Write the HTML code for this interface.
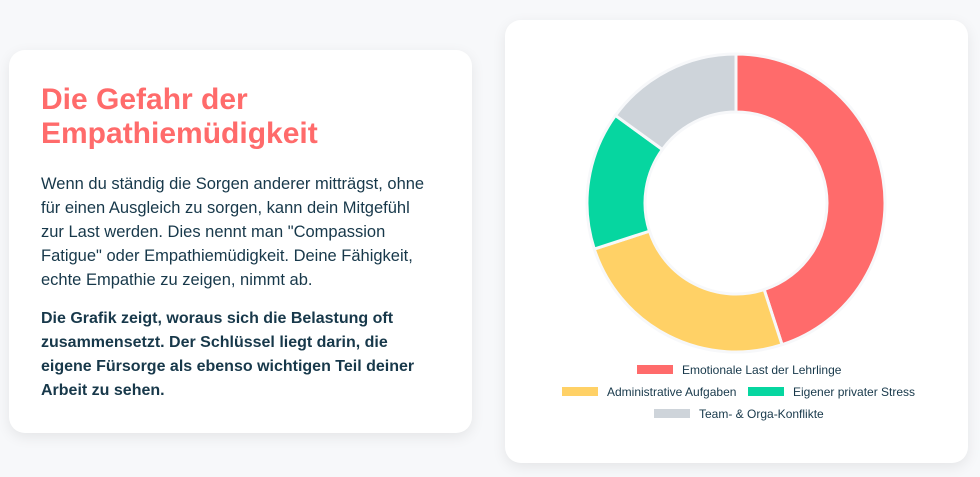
<!DOCTYPE html>
<html><head><meta charset="utf-8"><style>
body{margin:0;width:980px;height:477px;background:#f7f8fa;font-family:"Liberation Sans",sans-serif;position:relative;overflow:hidden}
.card{position:absolute;background:#fff;border-radius:16px;box-shadow:0 4px 14px rgba(0,0,0,0.08)}
#left{left:9px;top:50px;width:463px;height:383px}
#right{left:505px;top:20px;width:463px;height:443px}
h1{position:absolute;left:32px;top:33px;margin:0;font-size:30px;line-height:34px;color:#ff6b6b;font-weight:bold;width:400px}
p{position:absolute;left:32px;margin:0;font-size:16px;line-height:24px;color:#17384a;white-space:nowrap}
#p1{top:122px;font-size:16.5px}
#p2{top:257px;font-weight:bold}
.leg{position:absolute;font-size:12px;color:#17384a;white-space:nowrap}
.sw{display:inline-block;width:36px;height:9px;vertical-align:middle;margin-right:9px;position:relative;top:-1px}
</style></head><body>
<div id="left" class="card">
<h1>Die Gefahr der Empathiemüdigkeit</h1>
<p id="p1">Wenn du ständig die Sorgen anderer mitträgst, ohne<br>für einen Ausgleich zu sorgen, kann dein Mitgefühl<br>zur Last werden. Dies nennt man "Compassion<br>Fatigue" oder Empathiemüdigkeit. Deine Fähigkeit,<br>echte Empathie zu zeigen, nimmt ab.</p>
<p id="p2">Die Grafik zeigt, woraus sich die Belastung oft<br>zusammensetzt. Der Schlüssel liegt darin, die<br>eigene Fürsorge als ebenso wichtigen Teil deiner<br>Arbeit zu sehen.</p>
</div>
<div id="right" class="card">
<svg id="chart" width="463" height="443" style="position:absolute;left:0;top:0"></svg>
<div class="leg" style="left:132px;top:343px"><span class="sw" style="background:#ff6b6b"></span>Emotionale Last der Lehrlinge</div>
<div class="leg" style="left:57px;top:365px"><span class="sw" style="background:#ffd166"></span>Administrative Aufgaben</div>
<div class="leg" style="left:243px;top:365px"><span class="sw" style="background:#06d6a0"></span>Eigener privater Stress</div>
<div class="leg" style="left:149px;top:387px"><span class="sw" style="background:#ced4da"></span>Team- &amp; Orga-Konflikte</div>
</div>
<script>
const categories=["Emotionale Last der Lehrlinge","Administrative Aufgaben","Eigener privater Stress","Team- & Orga-Konflikte"];
const values=[45,25,15,15];
const colors=["#ff6b6b","#ffd166","#06d6a0","#ced4da"];
const svg=document.getElementById('chart');
const cx=231,cy=183,R=149,r=91;
const total=values.reduce((a,b)=>a+b,0);
let a0=0;
function pt(rad,a){return [cx+rad*Math.sin(a),cy-rad*Math.cos(a)];}
values.forEach((v,i)=>{
  const a1=a0+v/total*2*Math.PI;
  const large=(a1-a0)>Math.PI?1:0;
  const p1=pt(R,a0),p2=pt(R,a1),p3=pt(r,a1),p4=pt(r,a0);
  const d=`M${p1[0]},${p1[1]} A${R},${R} 0 ${large} 1 ${p2[0]},${p2[1]} L${p3[0]},${p3[1]} A${r},${r} 0 ${large} 0 ${p4[0]},${p4[1]} Z`;
  const path=document.createElementNS('http://www.w3.org/2000/svg','path');
  path.setAttribute('d',d);
  path.setAttribute('fill',colors[i]);
  path.setAttribute('stroke','#f7f8fa');
  path.setAttribute('stroke-width','3');
  
  
  svg.appendChild(path);
  a0=a1;
});
</script>
</body></html>
